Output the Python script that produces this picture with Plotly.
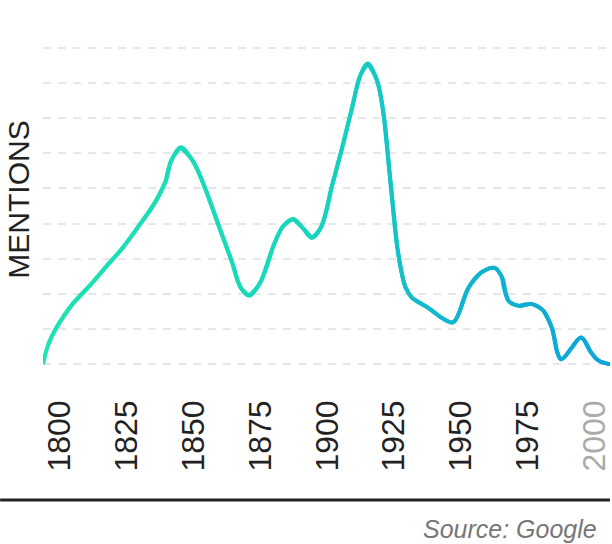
import plotly.graph_objects as go

# mentions per year (arbitrary units)
years = [1800, 1802, 1805, 1811, 1818, 1824, 1830, 1836, 1842, 1846, 1848,
         1851.5, 1856, 1861, 1866, 1871, 1874, 1877.2, 1881, 1886, 1890,
         1893.7, 1897, 1900.6, 1904, 1908, 1912, 1916, 1919, 1921.6, 1925,
         1927.6, 1930, 1932.6, 1935.7, 1938.2, 1944, 1949, 1953.4, 1956,
         1959.3, 1964, 1969, 1971.8, 1974.3, 1978, 1983, 1987.3, 1990.4,
         1992.3, 1993.9, 1997.9, 2001.4, 2004.7, 2007.8, 2012.2]
mentions = [0, 5.7, 10.4, 17.1, 22.8, 28.1, 33.3, 39.5, 46.1, 52.2, 57.9,
            61.7, 57.9, 49.4, 38.9, 28.5, 21.8, 19.5, 22.8, 33.2, 39.4,
            41.3, 38.9, 35.9, 38.9, 50.3, 61.7, 74.0, 82.6, 85.5, 80.7,
            70.3, 52.2, 33.2, 21.8, 18.8, 16.1, 13.3, 11.9, 15.2,
            21.8, 26.1, 27.4, 24.7, 18.0, 16.6, 17.1, 15.2, 10.4,
            3.8, 1.4, 4.7, 7.6, 3.8, 1.1, 0]

tick_years = [1800, 1825, 1850, 1875, 1900, 1925, 1950, 1975, 2000]
tick_labels = ['1800', '1825', '1850', '1875', '1900', '1925', '1950', '1975',
               '<span style="color:#aaaaaa">2000</span>']

# colour stops of the line gradient (left to right)
grad_years = [1800, 1900, 1925, 1950, 2012]
grad_rgb = [(30, 227, 179), (24, 214, 189), (21, 202, 196), (18, 184, 206), (14, 166, 216)]


def grad_color(yr):
    for i in range(len(grad_years) - 1):
        if grad_years[i] <= yr <= grad_years[i + 1]:
            t = (yr - grad_years[i]) / (grad_years[i + 1] - grad_years[i])
            c = [round(a + (b - a) * t) for a, b in zip(grad_rgb[i], grad_rgb[i + 1])]
            return 'rgb(%d,%d,%d)' % tuple(c)
    return 'rgb(%d,%d,%d)' % grad_rgb[-1]


fig = go.Figure()

# short pieces, each padded with one neighbour point on both sides so the
# spline follows the same path as one long line would
n = len(years)
step = 2
for start in range(0, n - 1, step):
    end = min(start + step, n - 1)
    lo, hi = max(start - 1, 0), min(end + 1, n - 1)
    xs = years[lo:hi + 1]
    ys = mentions[lo:hi + 1]
    fig.add_trace(go.Scatter(
        x=xs, y=ys, mode='lines',
        line=dict(shape='spline', smoothing=1, width=4,
                  color=grad_color((years[start] + years[end]) / 2)),
        cliponaxis=False, hoverinfo='skip', showlegend=False,
    ))

fig.update_layout(
    width=612, height=544,
    margin=dict(l=43, r=0, t=46, b=178),
    paper_bgcolor='white', plot_bgcolor='white',
    font=dict(family='Liberation Sans, Arial, sans-serif', color='#222222'),
    xaxis=dict(
        range=[1800, 2012.2],
        tickvals=tick_years, ticktext=tick_labels,
        tickangle=-90, tickfont=dict(size=32, color='#222222'),
        ticklabelshift=17, ticklabelstandoff=27, ticklabeloverflow='allow',
        showgrid=False, zeroline=False, showline=False, ticks='',
    ),
    yaxis=dict(
        range=[-0.5, 90.5],
        tickvals=[0, 10, 20, 30, 40, 50, 60, 70, 80, 90],
        showticklabels=False,
        showgrid=True, gridcolor='#e4e7eb', gridwidth=2, griddash='8px,7px',
        zeroline=False, showline=False, ticks='',
    ),
    shapes=[dict(type='line', xref='paper', yref='paper',
                 x0=-0.0756, x1=1, y0=-0.419, y1=-0.419,
                 line=dict(color='#222222', width=3))],
    annotations=[
        dict(text='MENTIONS', xref='paper', yref='paper', x=-0.0422, y=0.52,
             textangle=-90, showarrow=False, xanchor='center', yanchor='middle',
             font=dict(size=30, color='#222222')),
        dict(text='<i>Source: Google</i>', xref='paper', yref='paper',
             x=0.979, y=-0.509, showarrow=False, xanchor='right', yanchor='middle',
             borderpad=0, font=dict(size=25, color='#777777')),
    ],
)

fig.write_html('out.html', config={'displayModeBar': False},
               post_script="document.body.style.margin='0';")
